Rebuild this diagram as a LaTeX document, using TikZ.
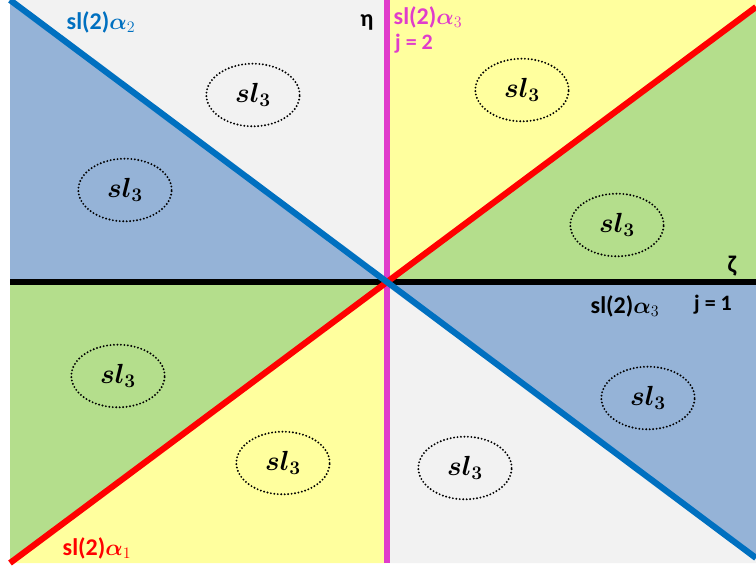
\documentclass[tikz,border=0pt]{standalone}
\usepackage{fontspec}
\setmainfont{Carlito}
\usepackage{amsmath,bm}
\usetikzlibrary{shapes.geometric}
\definecolor{rgrey}{HTML}{F2F2F2}
\definecolor{rblue}{HTML}{95B3D7}
\definecolor{ryellow}{HTML}{FFFF9E}
\definecolor{rgreen}{HTML}{B4DE8C}
\definecolor{lblue}{HTML}{0070C0}
\definecolor{lred}{HTML}{FF0000}
\definecolor{lmag}{HTML}{E03CCB}
\begin{document}
\begin{tikzpicture}[x=0.75pt,y=-0.75pt,
  lab/.style={font=\fontsize{18}{21}\selectfont\bfseries, inner sep=0pt},
  jlab/.style={font=\fontsize{16.5}{19}\selectfont\bfseries, inner sep=0pt},
  alg/.style={draw, line width=1.6pt, line cap=round, dash pattern=on 0pt off 2.6pt, ellipse, minimum width=70pt, minimum height=47pt, inner sep=0pt, font=\fontsize{21.5}{24}\selectfont},
  axisline/.style={line width=4.6pt}]
\useasboundingbox (0,0) rectangle (756,570);
\coordinate (C) at (387,282);
\coordinate (TL) at (10,0);
\coordinate (TM) at (387,0);
\coordinate (TR) at (756,0);
\coordinate (RR) at (756,7);
\coordinate (RM) at (756,282);
\coordinate (RB) at (756,558);
\coordinate (BR) at (756,563);
\coordinate (BM) at (387,563);
\coordinate (BL) at (10,563);
\coordinate (LM) at (10,282);
% regions
\fill[rgrey] (C) -- (TL) -- (TM) -- cycle;
\fill[rblue] (C) -- (TL) -- (LM) -- cycle;
\fill[rgreen] (C) -- (LM) -- (BL) -- cycle;
\fill[ryellow] (C) -- (BL) -- (BM) -- cycle;
\fill[rgrey] (C) -- (BM) -- (BR) -- (RB) -- cycle;
\fill[rblue] (C) -- (RB) -- (RM) -- cycle;
\fill[rgreen] (C) -- (RM) -- (RR) -- cycle;
\fill[ryellow] (C) -- (RR) -- (TR) -- (TM) -- cycle;
% lines
\draw[axisline, black] (LM) -- (RM);
\draw[axisline, lmag] (TM) -- (BM);
\draw[axisline, lred] (BL) -- (RR);
\draw[axisline, lblue] (TL) -- (RB);
% labels
\node[lab, text=lblue] (a2) at (101,22) {sl(2)$\boldsymbol{\alpha}_2$};
\node[lab] (eta) at (367,22) {η};
\node[lab, text=lmag] (a3t) at (428,17) {sl(2)$\boldsymbol{\alpha}_3$};
\node[jlab, text=lmag] (j2) at (414,44) {j = 2};
\node[lab] (zeta) at (732,266) {ζ};
\node[lab] (a3b) at (625,306) {sl(2)$\boldsymbol{\alpha}_3$};
\node[jlab] (j1) at (713,305) {j = 1};
\node[lab, text=lred] (a1) at (97,548) {sl(2)$\boldsymbol{\alpha}_1$};
% algebras
\node[alg] (e1) at (253,95) {$\boldsymbol{sl_3}$};
\node[alg] (e2) at (125,190) {$\boldsymbol{sl_3}$};
\node[alg] (e3) at (522,90) {$\boldsymbol{sl_3}$};
\node[alg] (e4) at (617,225) {$\boldsymbol{sl_3}$};
\node[alg] (e5) at (118,376) {$\boldsymbol{sl_3}$};
\node[alg] (e6) at (283,463) {$\boldsymbol{sl_3}$};
\node[alg] (e7) at (465,468) {$\boldsymbol{sl_3}$};
\node[alg] (e8) at (648,398) {$\boldsymbol{sl_3}$};
\end{tikzpicture}
\end{document}
